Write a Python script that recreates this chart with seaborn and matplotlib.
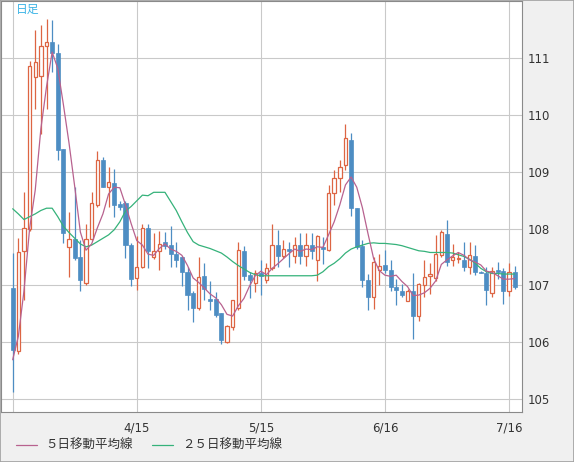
import matplotlib
matplotlib.use("Agg")
import matplotlib.pyplot as plt
from matplotlib.lines import Line2D
from matplotlib.patches import Rectangle
import pandas as pd
import seaborn as sns

# 日足 (index 0 = 3/16, 営業日ごと)
opens = [106.95, 105.85, 107.61, 107.99, 110.68, 110.69, 111.21, 111.28, 111.10, 109.40,
         107.68, 107.81, 107.50, 107.05, 107.81, 108.41, 109.21, 108.74, 108.80, 108.43,
         108.45, 107.71, 107.13, 107.32, 108.01, 107.50, 107.61, 107.76, 107.71, 107.55,
         107.50, 107.24, 106.87, 106.60, 107.16, 106.76, 106.76, 106.51, 106.01, 106.26,
         106.60, 107.61, 107.19, 107.04, 107.21, 107.10, 107.30, 107.71, 107.51, 107.64,
         107.52, 107.71, 107.51, 107.71, 107.45, 107.68, 107.63, 108.62, 108.89, 109.12,
         109.56, 108.37, 107.70, 107.10, 106.80, 107.28, 107.36, 107.27, 106.98, 106.91,
         106.73, 106.90, 106.46, 107.00, 107.16, 107.13, 107.53, 107.90, 107.44, 107.47,
         107.45, 107.33, 107.52, 107.23, 107.21, 106.86, 107.27, 107.26, 106.91, 107.23]
highs = [107.57, 107.84, 108.65, 110.95, 111.50, 111.59, 111.70, 111.67, 111.26, 109.40,
         108.30, 108.74, 107.80, 108.08, 108.65, 109.37, 109.27, 109.09, 109.05, 108.48,
         108.48, 107.74, 107.87, 108.08, 108.08, 107.93, 107.95, 107.94, 108.04, 107.77,
         107.51, 107.33, 106.91, 107.50, 107.39, 107.07, 106.89, 106.51, 106.31, 106.75,
         107.76, 107.70, 107.24, 107.27, 107.44, 107.40, 108.08, 107.98, 107.80, 107.77,
         107.85, 107.93, 107.93, 107.92, 107.89, 107.86, 108.77, 109.03, 109.21, 109.84,
         109.68, 108.37, 107.80, 107.20, 107.50, 107.55, 107.62, 107.44, 107.12, 107.03,
         106.93, 107.22, 107.04, 107.44, 107.39, 107.89, 107.98, 108.15, 107.73, 107.58,
         107.77, 107.77, 107.71, 107.25, 107.32, 107.33, 107.42, 107.30, 107.39, 107.35]
lows = [105.13, 105.80, 106.74, 107.95, 110.10, 109.67, 110.10, 110.76, 109.21, 107.75,
        107.14, 107.45, 106.91, 107.01, 107.80, 108.39, 108.73, 108.39, 108.21, 108.33,
        107.48, 106.99, 106.92, 107.30, 107.30, 107.46, 107.28, 107.65, 107.33, 107.33,
        106.99, 106.56, 106.35, 106.57, 106.75, 106.57, 106.44, 105.97, 105.98, 106.22,
        106.57, 107.10, 106.77, 106.89, 106.83, 107.05, 107.27, 107.32, 107.48, 107.32,
        107.40, 107.37, 107.34, 107.46, 107.07, 107.38, 107.60, 108.42, 108.65, 109.03,
        108.23, 107.65, 106.97, 106.57, 106.59, 107.01, 107.22, 106.90, 106.66, 106.80,
        106.72, 106.06, 106.38, 106.79, 106.85, 107.07, 107.50, 107.35, 107.35, 107.40,
        107.25, 107.20, 107.19, 107.22, 106.65, 106.80, 107.12, 106.67, 106.81, 106.93]
closes = [105.86, 107.58, 108.02, 110.86, 110.94, 111.22, 111.28, 111.10, 109.39, 107.92,
          107.81, 107.48, 107.10, 107.81, 108.46, 109.21, 108.74, 108.82, 108.42, 108.39,
          107.71, 107.11, 107.33, 108.01, 107.60, 107.60, 107.73, 107.70, 107.55, 107.44,
          107.23, 106.83, 106.60, 107.14, 106.93, 106.73, 106.48, 106.03, 106.29, 106.75,
          107.63, 107.17, 107.10, 107.21, 107.16, 107.30, 107.71, 107.52, 107.65, 107.61,
          107.71, 107.51, 107.71, 107.60, 107.87, 107.64, 108.62, 108.89, 109.09, 109.60,
          108.37, 107.68, 107.09, 106.79, 107.41, 107.34, 107.27, 106.98, 106.92, 106.83,
          106.90, 106.46, 107.02, 107.15, 107.20, 107.55, 107.94, 107.42, 107.50, 107.48,
          107.33, 107.53, 107.23, 107.225, 106.92, 107.26, 107.23, 106.91, 107.23, 106.98]

# 移動平均線 (チャートから読み取り)
ma5 = [105.69, 106.10, 106.90, 108.00, 108.68, 109.76, 110.50, 111.11, 110.82, 110.18,
       109.50, 108.74, 107.94, 107.62, 107.73, 108.01, 108.26, 108.61, 108.73, 108.72,
       108.42, 108.09, 107.79, 107.71, 107.55, 107.53, 107.65, 107.73, 107.64, 107.60,
       107.53, 107.35, 107.13, 107.05, 106.95, 106.85, 106.78, 106.66, 106.49, 106.46,
       106.64, 106.77, 106.99, 107.17, 107.25, 107.19, 107.30, 107.38, 107.47, 107.56,
       107.64, 107.60, 107.64, 107.63, 107.68, 107.67, 107.89, 108.12, 108.42, 108.77,
       108.91, 108.73, 108.37, 107.91, 107.47, 107.26, 107.18, 107.16, 107.18, 107.07,
       106.98, 106.82, 106.83, 106.87, 106.95, 107.08, 107.37, 107.45, 107.52, 107.58,
       107.53, 107.45, 107.41, 107.36, 107.25, 107.23, 107.17, 107.11, 107.11, 107.12]
ma25 = [108.35, 108.26, 108.16, 108.21, 108.26, 108.32, 108.36, 108.36, 108.21, 108.04,
        107.93, 107.83, 107.73, 107.68, 107.71, 107.77, 107.83, 107.89, 107.98, 108.12,
        108.31, 108.39, 108.49, 108.59, 108.58, 108.64, 108.64, 108.64, 108.48, 108.32,
        108.12, 107.93, 107.77, 107.71, 107.68, 107.65, 107.61, 107.57, 107.50, 107.42,
        107.35, 107.29, 107.23, 107.19, 107.17, 107.17, 107.17, 107.17, 107.17, 107.17,
        107.17, 107.17, 107.17, 107.17, 107.18, 107.24, 107.33, 107.39, 107.47, 107.57,
        107.64, 107.68, 107.71, 107.74, 107.75, 107.74, 107.74, 107.73, 107.72, 107.70,
        107.67, 107.64, 107.61, 107.60, 107.58, 107.58, 107.58, 107.58, 107.57, 107.54,
        107.51, 107.46, 107.39, 107.30, 107.24, 107.21, 107.21, 107.20, 107.20, 107.20]

date_ticks = [0, 22, 44, 66, 88]
date_labels = ["", "4/15", "5/15", "6/16", "7/16"]
price_ticks = [105, 106, 107, 108, 109, 110, 111]

UP = "#dd6543"
DOWN = "#4d8dc3"
MA5_COLOR = "#b8628f"
MA25_COLOR = "#35b27a"

sns.set_style("white")
plt.rcParams["font.family"] = ["DejaVu Sans", "Noto Sans CJK JP"]

df = pd.DataFrame({"o": opens, "h": highs, "l": lows, "c": closes,
                   "ma5": ma5, "ma25": ma25})
df["i"] = range(len(df))
up = df[df["c"] >= df["o"]]
dn = df[df["c"] < df["o"]]

W, H = 574, 462
fig = plt.figure(figsize=(W / 100, H / 100), dpi=100, facecolor="#f0f0f0")
ax = fig.add_axes([1 / W, 50 / H, 521 / W, 411 / H])
ax.set_facecolor("white")

# ヒゲ
ax.vlines(up["i"], up["l"], up["h"], color=UP, linewidth=0.9, zorder=2)
ax.vlines(dn["i"], dn["l"], dn["h"], color=DOWN, linewidth=0.9, zorder=2)
# 実体
ax.bar(up["i"], up["c"] - up["o"], bottom=up["o"], width=0.6,
       facecolor="white", edgecolor=UP, linewidth=0.9, zorder=3)
ax.bar(dn["i"], dn["o"] - dn["c"], bottom=dn["c"], width=0.72,
       facecolor=DOWN, edgecolor=DOWN, linewidth=0.5, zorder=3)

sns.lineplot(data=df, x="i", y="ma25", color=MA25_COLOR, linewidth=0.9,
             ax=ax, zorder=4)
sns.lineplot(data=df, x="i", y="ma5", color=MA5_COLOR, linewidth=0.9,
             ax=ax, zorder=5)

ax.set_xlim(-2.07, 90.3)
ax.set_ylim(104.77, 112.01)
ax.set_xticks(date_ticks)
ax.set_xticklabels(date_labels)
ax.set_yticks(price_ticks)
ax.set_yticklabels([str(p) for p in price_ticks])
ax.yaxis.tick_right()
ax.tick_params(axis="y", length=0, pad=4, labelsize=8.5, labelcolor="#333333")
ax.tick_params(axis="x", length=0, pad=7, labelsize=8.5, labelcolor="#333333")
ax.set_xlabel("")
ax.set_ylabel("")
ax.grid(True, color="#c9c9c9", linewidth=0.8)
ax.set_axisbelow(True)
for s in ax.spines.values():
    s.set_color("#8a8a8a")
    s.set_linewidth(0.8)

ax.text(0.029, 0.995, "日足", transform=ax.transAxes, ha="left", va="top",
        fontsize=8.5, color="#3cb4e6", family=["Noto Sans CJK JP"])

# 凡例
ly = 1 - 445 / H
fig.add_artist(Line2D([16 / W, 37 / W], [ly, ly], color=MA5_COLOR, linewidth=0.9))
fig.text(45 / W, ly, "５日移動平均線", ha="left", va="center", fontsize=9,
         color="#333333", family=["Noto Sans CJK JP"])
fig.add_artist(Line2D([152 / W, 173 / W], [ly, ly], color=MA25_COLOR, linewidth=0.9))
fig.text(182 / W, ly, "２５日移動平均線", ha="left", va="center", fontsize=9,
         color="#333333", family=["Noto Sans CJK JP"])

fig.add_artist(Rectangle((0, 0), 1, 1, transform=fig.transFigure, fill=False,
                         edgecolor="#a0a0a0", linewidth=1.2))

fig.savefig("out.png", dpi=100, facecolor=fig.get_facecolor())
